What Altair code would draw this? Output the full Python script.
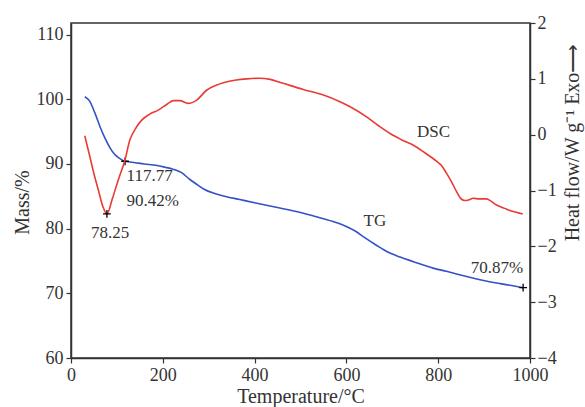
import altair as alt
import pandas as pd

# TG curve (mass %, left axis)
tg_temp = [30, 40, 52, 63, 74, 85, 95, 105, 117.77, 140, 160, 185, 205, 222, 240, 259, 275, 290, 310, 330,
           368, 400, 455, 500, 527, 571, 601, 620, 640, 666, 690, 717, 746, 789, 818, 862, 891, 935, 960, 985]
tg_mass = [100.4, 99.8, 97.9, 95.8, 94.0, 92.5, 91.5, 90.9, 90.42, 90.2, 90.0, 89.8, 89.5, 89.2, 88.7, 87.6, 86.8, 86.1, 85.5, 85.1,
           84.5, 84.0, 83.2, 82.5, 82.0, 81.1, 80.3, 79.6, 78.6, 77.4, 76.4, 75.6, 74.9, 73.9, 73.4, 72.6, 72.1, 71.5, 71.2, 70.87]

# DSC curve (heat flow, right axis)
dsc_temp = [30, 41, 50, 59.5, 70, 78.25, 90, 103, 117.77, 128, 140, 154, 170, 190, 210, 223, 237, 255, 274, 296,
            315, 332, 360, 383, 410, 434, 462, 506, 550, 586, 608, 644, 670, 695, 720, 746, 770, 797, 808, 818,
            830, 840, 850, 858, 866, 876, 890, 905, 915, 927, 945, 956, 970, 984]
dsc_hf = [-0.02, -0.39, -0.70, -0.99, -1.30, -1.42, -1.15, -0.81, -0.45, -0.10, 0.10, 0.26, 0.36, 0.44, 0.55, 0.61, 0.61, 0.56, 0.62, 0.80,
          0.88, 0.93, 0.98, 1.00, 1.01, 0.99, 0.92, 0.81, 0.71, 0.59, 0.50, 0.32, 0.16, 0.02, -0.09, -0.19, -0.32, -0.48, -0.56, -0.69,
          -0.86, -1.02, -1.15, -1.18, -1.17, -1.14, -1.15, -1.15, -1.19, -1.26, -1.32, -1.36, -1.39, -1.42]

# marked points
tg_mark_x = [117.77, 985]
tg_mark_y = [90.42, 70.87]
dsc_mark_x = [78.25]
dsc_mark_y = [-1.42]

# annotations
tg_text = ["117.77", "90.42%", "TG", "70.87%"]
tg_text_x = [121, 121, 662, 928]
tg_text_y = [88.2, 84.2, 81.2, 73.9]
tg_text_align = ["left", "left", "center", "center"]
dsc_text = ["78.25", "DSC"]
dsc_text_x = [85, 790]
dsc_text_y = [-1.77, 0.05]

FONT = "Liberation Serif"
TXT = "#333333"
BLUE = "#3352c4"
RED = "#ea3a35"

tg_df = pd.DataFrame({"T": tg_temp, "Mass": tg_mass})
dsc_df = pd.DataFrame({"T": dsc_temp, "HF": dsc_hf})
tgm_df = pd.DataFrame({"T": tg_mark_x, "Mass": tg_mark_y})
dscm_df = pd.DataFrame({"T": dsc_mark_x, "HF": dsc_mark_y})
tgt_df = pd.DataFrame({"T": tg_text_x, "Mass": tg_text_y, "label": tg_text, "align": tg_text_align})
dsct_df = pd.DataFrame({"T": dsc_text_x, "HF": dsc_text_y, "label": dsc_text})

x_scale = alt.Scale(domain=[0, 1000], nice=False)
x_enc = alt.X("T:Q", scale=x_scale,
              axis=alt.Axis(title="Temperature/°C", values=[0, 200, 400, 600, 800, 1000], format="d",
                            labelFlush=False, tickSize=5, labelPadding=3, titleY=28, titleBaseline="top"))
y_left_scale = alt.Scale(domain=[60, 111.8], nice=False, zero=False)
y_right_scale = alt.Scale(domain=[-4, 2], nice=False, zero=False)

y_left_axis = alt.Axis(title="Mass/%", orient="left", values=[60, 70, 80, 90, 100, 110], format="d",
                       tickSize=5, labelPadding=3, titleX=-49, titleY=179,
                       titleBaseline="middle", titleAngle=-90)
y_right_axis = alt.Axis(title="Heat flow/W g⁻¹   Exo⟶", orient="right", values=[-4, -3, -2, -1, 0, 1, 2], format="d",
                        tickSize=5, labelPadding=2, titleX=42, titleY=119,
                        titleBaseline="middle", titleAngle=-90)

cross = "M-1,0L1,0M0,-1L0,1"

tg_line = alt.Chart(tg_df).mark_line(color=BLUE, strokeWidth=1.6, interpolate="monotone").encode(
    x=x_enc, y=alt.Y("Mass:Q", scale=y_left_scale, axis=y_left_axis))
tg_marks = alt.Chart(tgm_df).mark_point(shape=cross, size=60, stroke="black", strokeWidth=1.3, filled=False, opacity=1).encode(
    x="T:Q", y="Mass:Q")
tg_texts_l = alt.Chart(tgt_df[tgt_df["align"] == "left"]).mark_text(
    font=FONT, fontSize=17, color=TXT, baseline="middle", align="left").encode(x="T:Q", y="Mass:Q", text="label:N")
tg_texts_c = alt.Chart(tgt_df[tgt_df["align"] == "center"]).mark_text(
    font=FONT, fontSize=17, color=TXT, baseline="middle", align="center").encode(x="T:Q", y="Mass:Q", text="label:N")

dsc_line = alt.Chart(dsc_df).mark_line(color=RED, strokeWidth=1.6, interpolate="monotone").encode(
    x=x_enc, y=alt.Y("HF:Q", scale=y_right_scale, axis=y_right_axis))
dsc_marks = alt.Chart(dscm_df).mark_point(shape=cross, size=60, stroke="black", strokeWidth=1.3, filled=False, opacity=1).encode(
    x="T:Q", y="HF:Q")
dsc_texts = alt.Chart(dsct_df).mark_text(font=FONT, fontSize=17, color=TXT, baseline="middle", align="center").encode(
    x="T:Q", y="HF:Q", text="label:N")

tg_layer = alt.layer(tg_line, tg_marks, tg_texts_l, tg_texts_c)
dsc_layer = alt.layer(dsc_line, dsc_marks, dsc_texts)

chart = alt.layer(tg_layer, dsc_layer).resolve_scale(y="independent").properties(
    width=459, height=335,
    autosize="none",
    padding={"left": 71, "top": 23, "right": 55, "bottom": 49},
    background="white",
).configure_view(
    stroke="#333333", strokeWidth=1.5
).configure_axis(
    grid=False,
    domainColor="#333333", domainWidth=1.5,
    tickColor="#333333", tickWidth=1.2,
    labelFont=FONT, labelFontSize=18, labelColor=TXT,
    titleFont=FONT, titleFontSize=20, titleColor=TXT, titleFontWeight="normal",
)

chart.save("out.html", embed_options={"renderer": "svg", "actions": False})
